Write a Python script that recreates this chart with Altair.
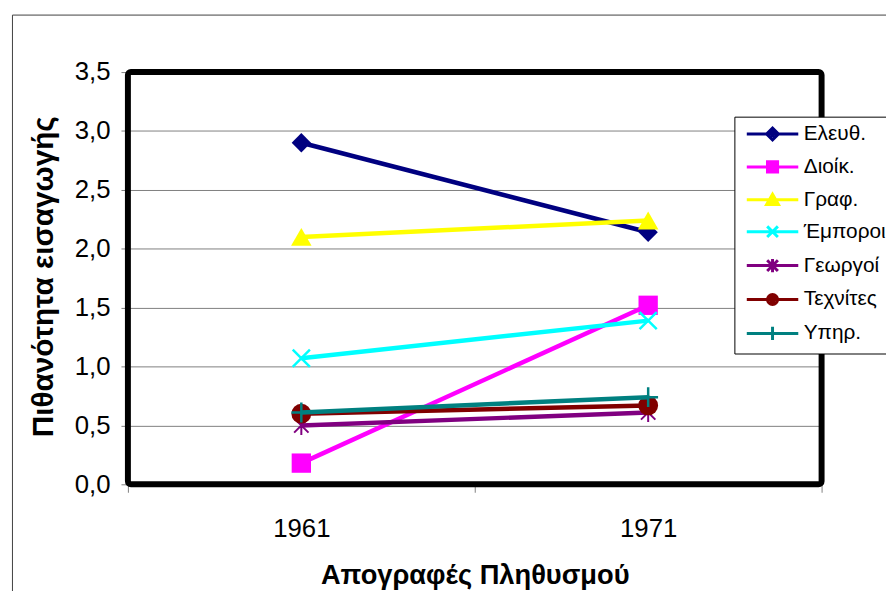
import altair as alt
import pandas as pd

years = ["1961", "1971"]
series = ["Ελευθ.", "Διοίκ.", "Γραφ.", "Έμποροι", "Γεωργοί", "Τεχνίτες", "Υπηρ."]
v1961 = [2.90, 0.18, 2.10, 1.07, 0.50, 0.60, 0.61]
v1971 = [2.14, 1.52, 2.24, 1.39, 0.61, 0.67, 0.74]
colors = ["#000080", "#FF00FF", "#FFFF00", "#00FFFF", "#800080", "#800000", "#008080"]
y_ticks = [0, 0.5, 1.0, 1.5, 2.0, 2.5, 3.0, 3.5]

rows = []
for s, a, b in zip(series, v1961, v1971):
    rows.append({"series": s, "year": years[0], "value": a})
    rows.append({"series": s, "year": years[1], "value": b})
df = pd.DataFrame(rows)

FONT = "Liberation Sans"

# chart markers (shape, filled, size, strokeWidth)
markers = [
    ("diamond", True, 380, 0),
    ("square", True, 380, 0),
    ("triangle-up", True, 430, 0),
    ("M-1,-1L1,1M1,-1L-1,1", False, 300, 2.5),
    ("M-0.9,-0.9L0.9,0.9M0.9,-0.9L-0.9,0.9M0,-1.2L0,1.2", False, 260, 2),
    ("circle", True, 400, 0),
    ("M0,-1L0,1M-1,0L1,0", False, 400, 2.5),
]

# legend symbols: line + marker (stroke-only paths; closed markers filled by scanlines)
LN = "M-0.83,0L7.83,0"
legend_paths = [
    LN + "M3.5,-1.0L4.5,0L3.5,1.0L2.5,0ZM3.15,-0.35L3.85,-0.35M2.8,0L4.2,0M3.15,0.35L3.85,0.35",
    LN + "M2.65,-0.85L4.35,-0.85L4.35,0.85L2.65,0.85ZM2.9,-0.35L4.1,-0.35M2.9,0L4.1,0M2.9,0.35L4.1,0.35",
    LN + "M3.5,-0.95L4.5,0.8L2.5,0.8ZM2.9,0.5L4.1,0.5M3.1,0.15L3.9,0.15M3.3,-0.2L3.7,-0.2",
    LN + "M2.6,-0.9L4.4,0.9M4.4,-0.9L2.6,0.9",
    LN + "M2.6,-0.9L4.4,0.9M4.4,-0.9L2.6,0.9M3.5,-1.1L3.5,1.1",
    LN + "M2.65,0A0.85,0.85,0,1,1,4.35,0A0.85,0.85,0,1,1,2.65,0ZM3.0,-0.35L4.0,-0.35M2.9,0L4.1,0M3.0,0.35L4.0,0.35",
    LN + "M3.5,-1.1L3.5,1.1M2.4,0L4.6,0",
]

color_scale = alt.Scale(domain=series, range=colors)

x_enc = alt.X(
    "year:N",
    bandPosition=0.5,
    scale=alt.Scale(type="band", domain=years, paddingInner=0, paddingOuter=0),
    axis=alt.Axis(
        title="Απογραφές Πληθυσμού",
        tickBand="extent",
        labelAngle=0,
        grid=False,
        domain=False,
        tickSize=8,
        tickColor="#808080",
        labelPadding=24,
        labelFontSize=26,
        labelFont=FONT,
        labelColor="black",
        titleFont=FONT,
        titleFontSize=27.5,
        titleFontWeight="bold",
        titleColor="black",
        titleY=92,
        titleBaseline="middle",
    ),
)
y_enc = alt.Y(
    "value:Q",
    scale=alt.Scale(domain=[0, 3.5], nice=False, zero=True),
    axis=alt.Axis(
        title="Πιθανότητα εισαγωγής",
        values=y_ticks,
        labelExpr="replace(format(datum.value, '.1f'), '.', ',')",
        grid=True,
        gridColor="#808080",
        gridWidth=1,
        gridOpacity=1,
        domain=False,
        tickSize=7,
        tickColor="#808080",
        labelPadding=11,
        labelFontSize=26,
        labelFont=FONT,
        labelColor="black",
        titleFont=FONT,
        titleFontSize=30,
        titleFontWeight="bold",
        titleColor="black",
        titleX=-70,
        titleY=206,
        titleAngle=270,
        titleBaseline="bottom",
        titleAlign="center",
    ),
)

one = pd.DataFrame({"k": [0]})
outer = alt.Chart(one).mark_rect(fillOpacity=0, stroke="#404040", strokeWidth=1).encode(
    x=alt.value(-116.5), x2=alt.value(900), y=alt.value(-57.5), y2=alt.value(700)
)
plot_frame = alt.Chart(one).mark_rect(
    fillOpacity=0, stroke="black", strokeWidth=6, cornerRadius=3
).encode(x=alt.value(0), x2=alt.value(700), y=alt.value(0), y2=alt.value(416))

layers = [outer, plot_frame]
for i, s in enumerate(series):
    sub = alt.Chart(df).transform_filter(alt.datum.series == s)
    line = sub.mark_line(strokeWidth=4.5, opacity=1, color=colors[i]).encode(x=x_enc, y=y_enc)
    shp, filled, size, sw = markers[i]
    if filled:
        pt = sub.mark_point(shape=shp, filled=True, size=size, opacity=1, color=colors[i])
    else:
        pt = sub.mark_point(
            shape=shp, filled=False, size=size, strokeWidth=sw, opacity=1, color=colors[i]
        )
    pt = pt.encode(x=x_enc, y=y_enc)
    layers += [line, pt]

leg_cfg = dict(
    orient="none",
    legendX=612,
    legendY=45,
    strokeColor="black",
    fillColor="white",
    padding=7,
    rowPadding=9.2,
    labelOffset=42,
    symbolSize=144,
    symbolStrokeWidth=3,
    labelFont=FONT,
    labelFontSize=21,
    labelColor="black",
    labelLimit=200,
)

legend_layer = (
    alt.Chart(df)
    .transform_filter("datum.value < -100")
    .mark_point(filled=False, size=144, strokeWidth=3, opacity=1)
    .encode(
        x=x_enc,
        y=y_enc,
        color=alt.Color("series:N", scale=color_scale, title=None, legend=alt.Legend(**leg_cfg)),
        shape=alt.Shape(
            "series:N",
            scale=alt.Scale(domain=series, range=legend_paths),
            title=None,
            legend=alt.Legend(**leg_cfg),
        ),
    )
)
layers.append(legend_layer)

chart = (
    alt.layer(*layers)
    .properties(
        width=700,
        height=416,
        padding={"left": 121, "top": 62, "right": 65, "bottom": 105},
        autosize=alt.AutoSizeParams(type="none"),
        background="white",
    )
    .configure_view(stroke=None)
)

chart.save("out.html", embed_options={"renderer": "svg", "actions": False})
